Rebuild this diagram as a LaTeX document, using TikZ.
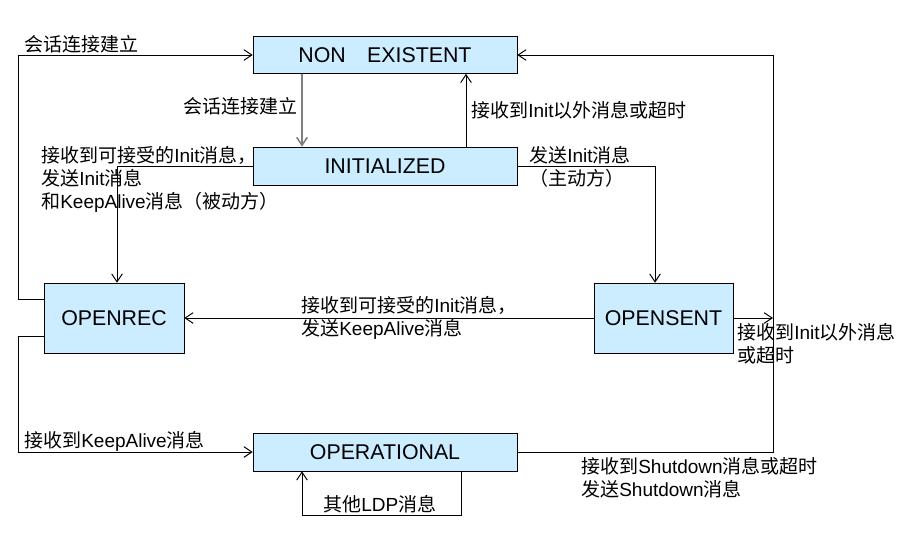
\documentclass[tikz,border=0pt]{standalone}
\usepackage{fontspec}
\setmainfont{Liberation Sans}
\newfontfamily\zhfont{Noto Sans CJK SC}
\newcommand{\zh}[1]{{\zhfont #1}}
\usetikzlibrary{arrows.meta}
\definecolor{boxblue}{HTML}{CCECFF}

\begin{document}
\begin{tikzpicture}[
    x=0.75pt, y=-0.75pt,
    every node/.style={font=\fontsize{14.25}{17.25}\selectfont},
    state/.style={draw, fill=boxblue, font=\fontsize{16}{19}\selectfont, inner sep=0pt},
    flow/.style={-{Straight Barb[length=6pt,width=8pt]}, line width=0.75pt},
    grayflow/.style={flow, gray, line width=1.2pt},
    lbl/.style={anchor=west, align=left, inner sep=0pt}
]
\useasboundingbox (0,0) rectangle (903,540);

% --- columns used by the bent connectors ---
\coordinate (leftx)  at (18,0);
\coordinate (colA)   at (117,0);
\coordinate (colB)   at (302,0);
\coordinate (colC)   at (466,0);
\coordinate (colD)   at (655,0);
\coordinate (colE)   at (461,0);
\coordinate (rightx) at (773,0);
\coordinate (rowA)   at (0,299);
\coordinate (rowB)   at (0,336);

% --- states ---
\node[state, minimum width=198pt, minimum height=27.75pt] (nonex) at (385,55) {NON\quad EXISTENT};
\node[state, minimum width=198pt, minimum height=28.5pt] (init) at (385,166) {INITIALIZED};
\node[state, minimum width=105pt, minimum height=52.5pt] (openrec) at (114,318) {OPENREC};
\node[state, minimum width=104.25pt, minimum height=52.5pt] (opensent) at (663.5,318) {OPENSENT};
\node[state, minimum width=198pt, minimum height=28.5pt] (oper) at (385,452) {OPERATIONAL};

% --- transitions ---
\draw[flow] (openrec.west |- rowA) -| (nonex.west -| leftx) -- (nonex.west);
\draw[grayflow] (nonex.south -| colB) -- (init.north -| colB);
\draw[flow] (init.north -| colC) -- (nonex.south -| colC);
\draw[flow] (init.west) -| (openrec.north -| colA);
\draw[flow] (init.east) -| (opensent.north -| colD);
\draw[flow] (opensent.west) -- (openrec.east);
\draw[flow] (opensent.east) -- (opensent.east -| rightx);
\draw[flow] (oper.east) -| (nonex.east -| rightx) -- (nonex.east);
\draw[flow] (openrec.west |- rowB) -| (oper.west -| leftx) -- (oper.west);
\draw[flow] (oper.south -| colE) -- ++(0,44) -| (oper.south -| colB);

% --- labels ---
\node[lbl] (l1) at (24,44) {\zh{会话连接建立}};
\node[lbl] (l2) at (183,106) {\zh{会话连接建立}};
\node[lbl] (l3) at (471,110) {\zh{接收到}Init\zh{以外消息或超时}};
\node[lbl] (l4) at (41,179) {\zh{接收到可接受的}Init\zh{消息，}\\\zh{发送}Init\zh{消息}\\\zh{和}KeepAlive\zh{消息（被动方）}};
\node[lbl] (l5) at (529,167) {\zh{发送}Init\zh{消息}\\\zh{（主动方）}};
\node[lbl] (l6) at (301,318) {\zh{接收到可接受的}Init\zh{消息，}\\\zh{发送}KeepAlive\zh{消息}};
\node[lbl] (l7) at (737,344) {\zh{接收到}Init\zh{以外消息}\\\zh{或超时}};
\node[lbl] (l8) at (24,441) {\zh{接收到}KeepAlive\zh{消息}};
\node[lbl] (l9) at (581,477.5) {\zh{接收到}Shutdown\zh{消息或超时}\\\zh{发送}Shutdown\zh{消息}};
\node[lbl] (l10) at (323,504) {\zh{其他}LDP\zh{消息}};

\end{tikzpicture}
\end{document}
